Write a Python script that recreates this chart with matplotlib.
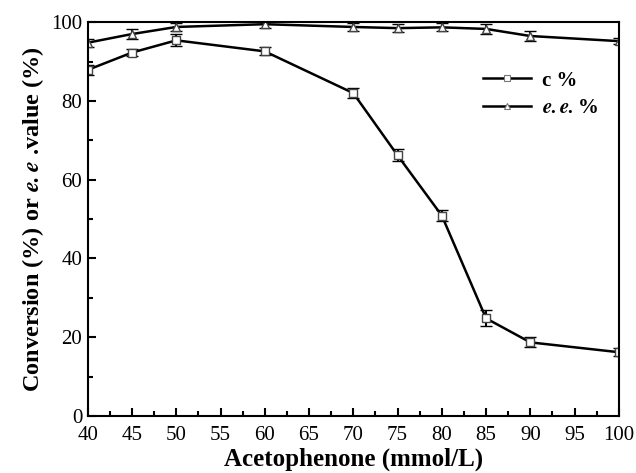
import numpy as np
import matplotlib
matplotlib.use("Agg")
from matplotlib import pyplot as plt
from matplotlib.ticker import MultipleLocator
from matplotlib.lines import Line2D

# data
conc = [40, 45, 50, 60, 70, 75, 80, 85, 90, 100]
conv = [87.9, 92.3, 95.4, 92.6, 82.0, 66.2, 50.9, 24.8, 18.7, 16.2]
conv_err = [1.2, 1.0, 1.5, 1.0, 1.2, 1.5, 1.5, 2.0, 1.3, 1.0]
ee = [94.8, 97.0, 98.8, 99.5, 98.8, 98.5, 98.7, 98.3, 96.5, 95.2]
ee_err = [1.0, 1.2, 1.0, 1.0, 1.0, 1.0, 1.0, 1.2, 1.3, 0.8]

plt.rcParams['font.family'] = ['Liberation Serif', 'DejaVu Serif']
plt.rcParams['mathtext.fontset'] = 'stix'

fig = plt.figure(figsize=(6.36, 4.73), dpi=100)
ax = fig.add_axes([0.138, 0.1205, 0.835, 0.8325])

ax.errorbar(conc, conv, yerr=conv_err, color='black', lw=1.8,
            marker='s', ms=6, mfc='white', mec='#444444', mew=1.0,
            capsize=4, capthick=1.8, elinewidth=1.5)
ax.errorbar(conc, ee, yerr=ee_err, color='black', lw=1.8,
            marker='^', ms=6, mfc='white', mec='#444444', mew=1.0,
            capsize=4, capthick=1.8, elinewidth=1.5)

ax.set_xlim(40, 100)
ax.set_ylim(0, 100)
ax.set_xticks(np.arange(40, 101, 5))
ax.set_yticks(np.arange(0, 101, 20))
ax.xaxis.set_minor_locator(MultipleLocator(2.5))
ax.yaxis.set_minor_locator(MultipleLocator(10))
ax.tick_params(which='both', direction='in', width=1.5, labelsize=15)
ax.tick_params(which='major', length=6)
ax.tick_params(which='minor', length=3.5)
ax.tick_params(axis='x', pad=7)
ax.tick_params(axis='y', pad=4)
for s in ax.spines.values():
    s.set_linewidth(1.5)

ax.set_xlabel('Acetophenone (mmol/L)', fontsize=18, fontweight='bold', labelpad=2)
ax.set_ylabel(r'Conversion (%) or $\mathbfit{e.e}$ .value (%)', fontsize=17.5,
              fontweight='bold', labelpad=4)

handles = [
    Line2D([], [], color='black', lw=1.8, marker='s', ms=5, mfc='white', mec='#777777', mew=0.8),
    Line2D([], [], color='black', lw=1.8, marker='^', ms=5, mfc='white', mec='#777777', mew=0.8),
]
ax.legend(handles, ['c %', r'$\mathbfit{e.e.}$%'], loc='upper right',
          bbox_to_anchor=(0.995, 0.925), frameon=False,
          prop={'size': 15, 'weight': 'bold'}, handlelength=2.3,
          handletextpad=0.5, labelspacing=0.35)

fig.savefig('out.png', dpi=100)
